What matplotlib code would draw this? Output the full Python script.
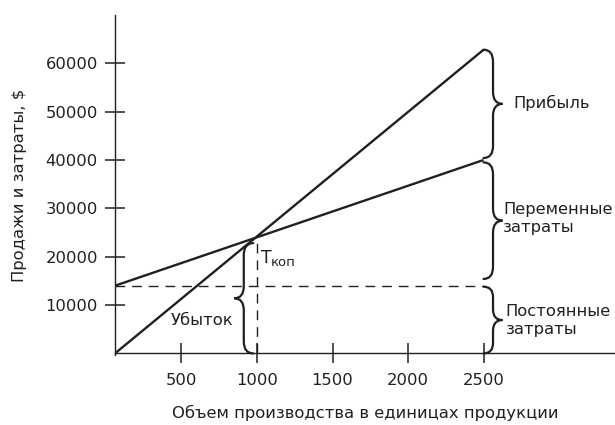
import matplotlib
matplotlib.use('Agg')
import matplotlib.pyplot as plt
from matplotlib.path import Path
from matplotlib.patches import PathPatch

# data
volume = [60, 2500]
sales = [0, 62800]
costs = [14000, 40000]
fixed_cost = 14000
break_even = 1000
break_even_value = 24000
x_ticks = [500, 1000, 1500, 2000, 2500]
y_ticks = [10000, 20000, 30000, 40000, 50000, 60000]

x_label = 'Объем производства в единицах продукции'
y_label = 'Продажи и затраты, $'

INK = '#231f20'


def brace(ax, x, y0, y1, w, r):
    # vertical curly brace from y0 to y1, bulging by w (sign gives side)
    ym = (y0 + y1) / 2
    xm = x + w / 2
    verts = [(x, y0), (xm, y0), (xm, y0 + r),
             (xm, ym - r),
             (xm, ym), (x + w, ym),
             (xm, ym), (xm, ym + r),
             (xm, y1 - r),
             (xm, y1), (x, y1)]
    codes = [Path.MOVETO, Path.CURVE3, Path.CURVE3,
             Path.LINETO,
             Path.CURVE3, Path.CURVE3,
             Path.CURVE3, Path.CURVE3,
             Path.LINETO,
             Path.CURVE3, Path.CURVE3]
    ax.add_patch(PathPatch(Path(verts, codes), fill=False, lw=1.6,
                           edgecolor=INK, capstyle='round'))


def main():
    plt.rcParams['font.family'] = ['DejaVu Sans']
    fs = 11.8
    fig = plt.figure(figsize=(6.15, 4.25), dpi=100)
    ax = fig.add_axes([0.187, 0.165, 0.813, 0.8])

    ax.plot(volume, sales, color=INK, lw=1.7, solid_capstyle='butt')
    ax.plot(volume, costs, color=INK, lw=1.7, solid_capstyle='butt')
    ax.plot([volume[0], volume[1]], [fixed_cost, fixed_cost], color=INK,
            lw=1.0, dashes=(7, 5))
    ax.plot([break_even, break_even], [0, break_even_value], color=INK,
            lw=1.0, dashes=(7, 5))

    ax.set_xlim(volume[0], 3370)
    ax.set_ylim(-300, 70000)

    for s in ['top', 'right']:
        ax.spines[s].set_visible(False)
    for s in ['left', 'bottom']:
        ax.spines[s].set_linewidth(1.0)
        ax.spines[s].set_color(INK)
    ax.spines['bottom'].set_position(('data', 0))

    ax.set_xticks(x_ticks)
    ax.set_yticks(y_ticks)
    ax.tick_params(direction='inout', length=14.5, width=1.1, color=INK,
                   labelsize=fs, labelcolor=INK)
    ax.tick_params(axis='x', pad=7)
    ax.tick_params(axis='y', pad=5)

    ax.set_xlabel(x_label, fontsize=fs, color=INK, labelpad=12)
    ax.set_ylabel(y_label, fontsize=fs, color=INK, labelpad=13)

    # braces on the right
    brace(ax, volume[1], 40400, sales[1], 125, 2500)
    brace(ax, volume[1], 15400, 39500, 125, 2500)
    brace(ax, volume[1], 0, 13800, 125, 2200)
    # loss brace
    brace(ax, break_even - 25, 0, 22800, -125, 2500)

    ax.text(2695, 51700, 'Прибыль', va='center', ha='left', color=INK,
            fontsize=fs)
    ax.text(2630, 27900, 'Переменные\nзатраты', va='center', ha='left',
            color=INK, linespacing=1.25, fontsize=fs)
    ax.text(2645, 6800, 'Постоянные\nзатраты', va='center', ha='left',
            color=INK, linespacing=1.25, fontsize=fs)
    ax.text(640, 6800, 'Убыток', va='center', ha='center', color=INK,
            fontsize=fs)
    ax.text(1025, 19800, 'Т', va='center', ha='left', color=INK,
            fontsize=fs * 1.05)
    ax.text(1092, 18900, 'коп', va='center', ha='left', color=INK,
            fontsize=fs * 0.8)

    fig.savefig('out.png', dpi=100)


if __name__ == '__main__':
    main()
